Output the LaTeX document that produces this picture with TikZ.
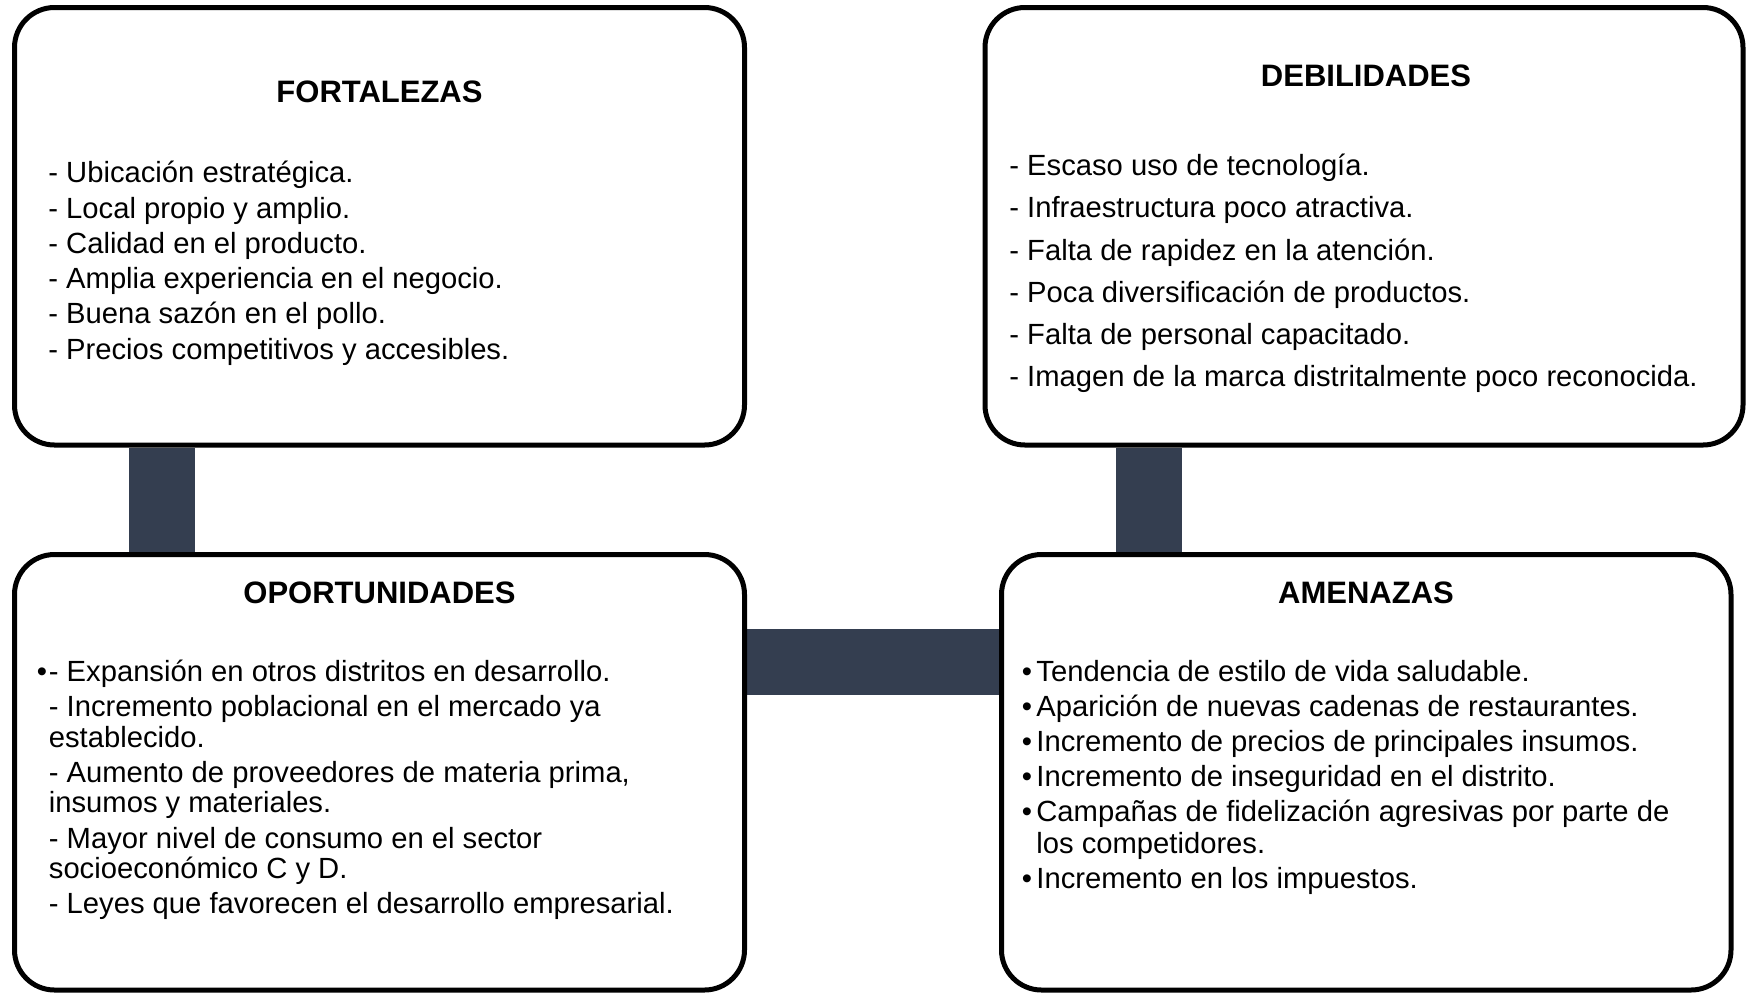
\documentclass[tikz,border=0pt]{standalone}
\usepackage{fontspec}
\setmainfont{Liberation Sans}
\usetikzlibrary{backgrounds}
\definecolor{barcol}{RGB}{52,62,80}
\tikzset{
  box/.style={draw=black, line width=2.5pt, rounded corners=20pt, fill=white, inner sep=0pt},
  boxtitle/.style={font=\fontsize{15.5}{18}\selectfont\bfseries, anchor=base, inner sep=0pt},
  item/.style={font=\fontsize{14.6}{17}\selectfont, anchor=base west, inner sep=0pt},
  bar/.style={draw=none, fill=barcol}
}
\begin{document}
\begin{tikzpicture}[x=0.5pt,y=-0.5pt]
\useasboundingbox (0,0) rectangle (1746,992);

% boxes
\node[box, minimum width=365pt, minimum height=218.75pt] (F) at (379.5,226.25) {};
\node[box, minimum width=379pt, minimum height=218.75pt] (D) at (1364,226.25) {};
\node[box, minimum width=365pt, minimum height=217.75pt] (O) at (379.5,772.25) {};
\node[box, minimum width=364.75pt, minimum height=217.75pt] (A) at (1366.25,772.25) {};

% connector bars
\coordinate (lb1) at (129,0);
\coordinate (lb2) at (195,0);
\coordinate (rb1) at (1116,0);
\coordinate (rb2) at (1182,0);
\coordinate (hb1) at (0,629);
\coordinate (hb2) at (0,695);
\begin{pgfonlayer}{background}
\fill[white] (0,0) rectangle (1746,992);
\fill[bar] (F.south -| lb1) rectangle (O.north -| lb2);
\fill[bar] (D.south -| rb1) rectangle (A.north -| rb2);
\fill[bar] (O.east |- hb1) rectangle (A.west |- hb2);
\end{pgfonlayer}

% titles
\node[boxtitle] (Ft) at (379.5,102.7) {FORTALEZAS};
\node[boxtitle] (Dt) at (1366,86) {DEBILIDADES};
\node[boxtitle] (Ot) at (379.5,603.3) {OPORTUNIDADES};
\node[boxtitle] (At) at (1366,603.3) {AMENAZAS};

% FORTALEZAS items
\node[item] (f1) at (48,182.7) {- Ubicación estratégica.};
\node[item] (f2) at (48,218.0) {- Local propio y amplio.};
\node[item] (f3) at (48,253.3) {- Calidad en el producto.};
\node[item] (f4) at (48,288.6) {- Amplia experiencia en el negocio.};
\node[item] (f5) at (48,323.9) {- Buena sazón en el pollo.};
\node[item] (f6) at (48,359.2) {- Precios competitivos y accesibles.};

% DEBILIDADES items
\node[item] (d1) at (1009,175.7) {- Escaso uso de tecnología.};
\node[item] (d2) at (1009,217.9) {- Infraestructura poco atractiva.};
\node[item] (d3) at (1009,260.1) {- Falta de rapidez en la atención.};
\node[item] (d4) at (1009,302.3) {- Poca diversificación de productos.};
\node[item] (d5) at (1009,344.5) {- Falta de personal capacitado.};
\node[item] (d6) at (1009,386.7) {- Imagen de la marca distritalmente poco reconocida.};

% OPORTUNIDADES items
\node[item] (ob) at (36.5,681.7) {•};
\node[item] (o1) at (48.5,681.7) {- Expansión en otros distritos en desarrollo.};
\node[item] (o2) at (48.5,716.7) {- Incremento poblacional en el mercado ya};
\node[item] (o3) at (48.5,747.3) {establecido.};
\node[item] (o4) at (48.5,782.7) {- Aumento de proveedores de materia prima,};
\node[item] (o5) at (48.5,812.7) {insumos y materiales.};
\node[item] (o6) at (48.5,848.3) {- Mayor nivel de consumo en el sector};
\node[item] (o7) at (48.5,878.3) {socioeconómico C y D.};
\node[item] (o8) at (48.5,913.3) {- Leyes que favorecen el desarrollo empresarial.};

% AMENAZAS items
\node[item] (ab1) at (1021.5,681.7) {•};
\node[item] (a1) at (1036,681.7) {Tendencia de estilo de vida saludable.};
\node[item] (ab2) at (1021.5,716.7) {•};
\node[item] (a2) at (1036,716.7) {Aparición de nuevas cadenas de restaurantes.};
\node[item] (ab3) at (1021.5,751.7) {•};
\node[item] (a3) at (1036,751.7) {Incremento de precios de principales insumos.};
\node[item] (ab4) at (1021.5,786.7) {•};
\node[item] (a4) at (1036,786.7) {Incremento de inseguridad en el distrito.};
\node[item] (ab5) at (1021.5,821.7) {•};
\node[item] (a5) at (1036,821.7) {Campañas de fidelización agresivas por parte de};
\node[item] (a6) at (1036,853.3) {los competidores.};
\node[item] (ab7) at (1021.5,888.3) {•};
\node[item] (a7) at (1036,888.3) {Incremento en los impuestos.};
\end{tikzpicture}
\end{document}
